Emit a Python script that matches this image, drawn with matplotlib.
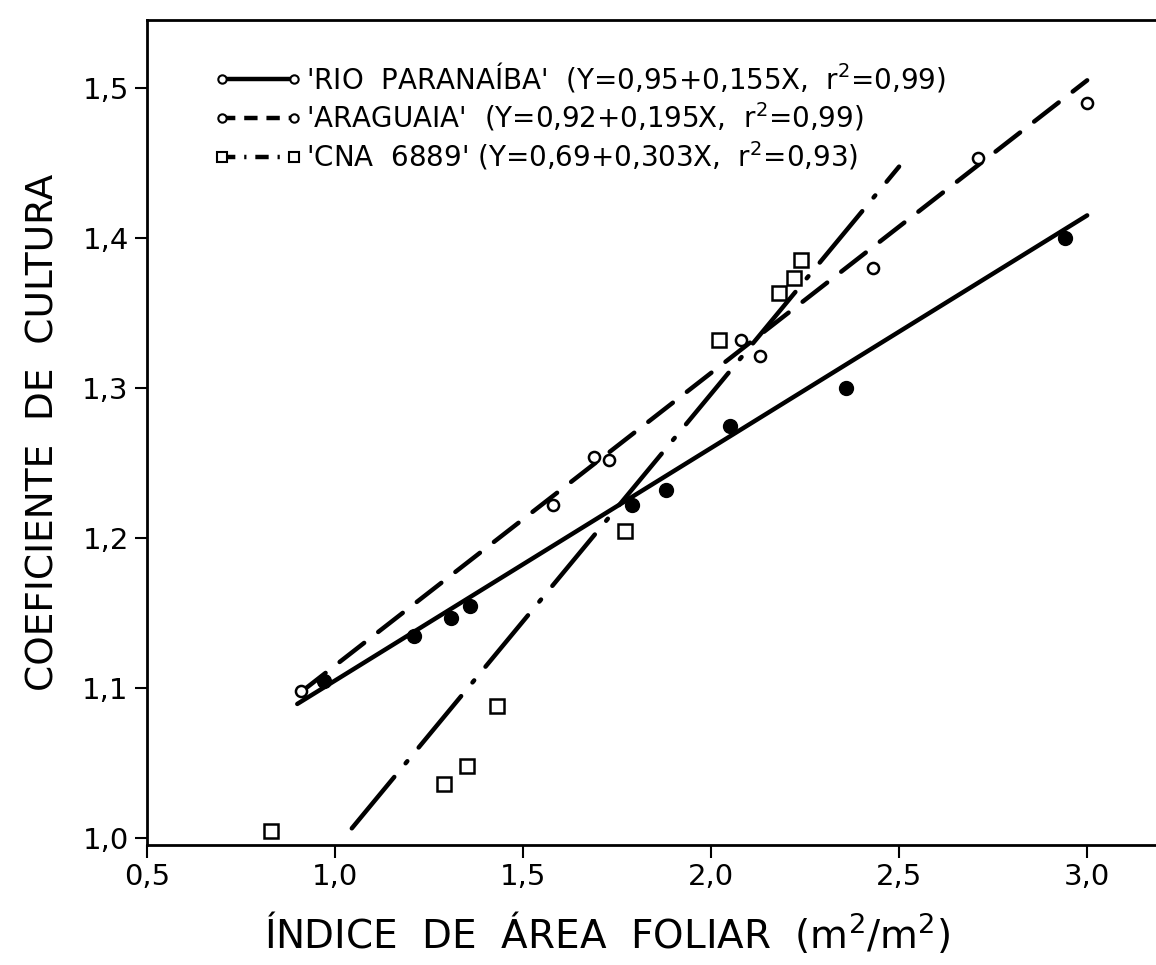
import matplotlib
matplotlib.use("Agg")
import matplotlib.pyplot as plt
from matplotlib.lines import Line2D
import numpy as np

# data
rio_x = [0.97, 1.21, 1.31, 1.36, 1.79, 1.88, 2.05, 2.36, 2.94]
rio_y = [1.105, 1.135, 1.147, 1.155, 1.222, 1.232, 1.275, 1.300, 1.400]

ara_x = [0.91, 1.58, 1.69, 1.73, 2.08, 2.13, 2.43, 2.71, 3.00]
ara_y = [1.098, 1.222, 1.254, 1.252, 1.332, 1.321, 1.380, 1.453, 1.490]

cna_x = [0.83, 1.29, 1.35, 1.43, 1.77, 2.02, 2.18, 2.22, 2.24]
cna_y = [1.005, 1.036, 1.048, 1.088, 1.205, 1.332, 1.363, 1.373, 1.385]

# regression lines from the legend: intercept, slope, x range drawn
rio_fit = (0.95, 0.155, (0.90, 3.00))
ara_fit = (0.92, 0.195, (0.91, 3.00))
cna_fit = (0.69, 0.303, (1.045, 2.50))

labels = ["'RIO  PARANAÍBA'  (Y=0,95+0,155X,  r$^2$=0,99)",
          "'ARAGUAIA'  (Y=0,92+0,195X,  r$^2$=0,99)",
          "'CNA  6889' (Y=0,69+0,303X,  r$^2$=0,93)"]

xticks = [0.5, 1.0, 1.5, 2.0, 2.5, 3.0]
xticklabels = ['0,5', '1,0', '1,5', '2,0', '2,5', '3,0']
yticks = [1.0, 1.1, 1.2, 1.3, 1.4, 1.5]
yticklabels = ['1,0', '1,1', '1,2', '1,3', '1,4', '1,5']

plt.rcParams['font.family'] = ['DejaVu Sans']

fig = plt.figure(figsize=(11.56, 9.65), dpi=100)
ax = fig.add_axes([0.127, 0.124, 0.873, 0.855])


def fit_line(fit):
    a, b, (x0, x1) = fit
    xs = np.array([x0, x1])
    return xs, a + b * xs


lw = 3.2
xs, ys = fit_line(rio_fit)
ax.plot(xs, ys, color='black', lw=lw, solid_capstyle='round')
xs, ys = fit_line(ara_fit)
ax.plot(xs, ys, color='black', lw=lw, linestyle=(0, (7, 4)), dash_capstyle='round')
xs, ys = fit_line(cna_fit)
ax.plot(xs, ys, color='black', lw=lw, linestyle=(0, (15, 4, 0.6, 4)), dash_capstyle='round')

ax.plot(rio_x, rio_y, 'o', color='black', ms=10, ls='none')
ax.plot(ara_x, ara_y, 'o', mfc='white', mec='black', mew=1.8, ms=8, ls='none')
ax.plot(cna_x, cna_y, 's', mfc='white', mec='black', mew=1.8, ms=10, ls='none')

handles = [
    Line2D([], [], color='black', lw=lw, marker='o', mfc='white', mec='black', mew=1.5, ms=6),
    Line2D([], [], color='black', lw=lw, linestyle=(0, (3, 2)), marker='o', mfc='white', mec='black', mew=1.5, ms=6),
    Line2D([], [], color='black', lw=lw, linestyle=(0, (3, 2, 0.5, 2)), marker='s', mfc='white', mec='black', mew=1.5, ms=7),
]
ax.legend(handles, labels, loc='upper left', bbox_to_anchor=(0.055, 0.965), numpoints=2,
          frameon=False, fontsize=20, handlelength=3.2, handletextpad=0.15,
          labelspacing=0.22, borderaxespad=0)

ax.set_xlim(0.513, 3.183)
ax.set_ylim(0.9953, 1.545)
ax.set_xticks(xticks)
ax.set_xticklabels(xticklabels)
ax.set_yticks(yticks)
ax.set_yticklabels(yticklabels)
ax.tick_params(axis='both', direction='out', length=9, width=1.5, labelsize=21, pad=4)

ax.spines['right'].set_visible(False)
for s in ['left', 'top', 'bottom']:
    ax.spines[s].set_linewidth(2)

ax.set_xlabel('ÍNDICE  DE  ÁREA  FOLIAR  (m$^2$/m$^2$)', fontsize=28)
ax.xaxis.set_label_coords(0.456, -0.078)
ax.set_ylabel('COEFICIENTE  DE  CULTURA', fontsize=27)
ax.yaxis.set_label_coords(-0.085, 0.5)

fig.savefig('out.png', dpi=100)
